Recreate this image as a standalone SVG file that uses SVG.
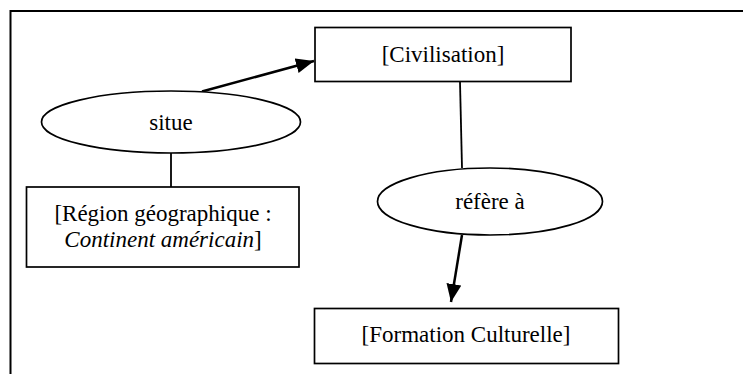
<svg xmlns="http://www.w3.org/2000/svg" width="743" height="374" viewBox="0 0 743 374">
<style>
.box{fill:#fff;stroke:#000;stroke-width:1.7}
.el{fill:#fff;stroke:#000;stroke-width:1.7}
.t{font-family:'Liberation Serif','Times New Roman',Times,'DejaVu Serif',serif;font-size:23px;fill:#000;text-anchor:middle}
.c{stroke:#000;stroke-width:2.5;fill:none}
.frame{stroke:#000;stroke-width:2;fill:none}
</style>
<defs>
<marker id="ah" markerUnits="userSpaceOnUse" markerWidth="20" markerHeight="16" refX="18" refY="7.5" orient="auto">
<path d="M0,0 L18,7.5 L0,15 Z" fill="#000"/>
</marker>
</defs>
<rect width="743" height="374" fill="#fff"/>
<path class="frame" d="M10.5,374 V11 H743"/>
<g id="connectors">
<line class="c" x1="202" y1="91.5" x2="314" y2="61" marker-end="url(#ah)"/>
<line class="c" x1="171" y1="153" x2="171" y2="187" style="stroke-width:1.8"/>
<line class="c" x1="460" y1="82" x2="462" y2="168" style="stroke-width:1.8"/>
<line class="c" x1="462" y1="235" x2="451" y2="302" marker-end="url(#ah)"/>
</g>
<g id="civilisation">
<rect class="box" x="315" y="27.5" width="256" height="54"/>
<text class="t" x="443" y="62" font-family="Liberation Serif, serif">[Civilisation]</text>
</g>
<g id="situe">
<ellipse class="el" cx="171" cy="122" rx="129.5" ry="31"/>
<text class="t" x="171" y="130" font-family="Liberation Serif, serif">situe</text>
</g>
<g id="region">
<rect class="box" x="26.5" y="187" width="272.5" height="80"/>
<text class="t" x="163" y="221" font-family="Liberation Serif, serif">[Région géographique :</text>
<text class="t" x="163" y="247" font-family="Liberation Serif, serif"><tspan font-style="italic">Continent américain</tspan>]</text>
</g>
<g id="refere">
<ellipse class="el" cx="490" cy="201.5" rx="112.5" ry="33.5"/>
<text class="t" x="490" y="209" font-family="Liberation Serif, serif">réfère à</text>
</g>
<g id="formation">
<rect class="box" x="314.5" y="308.5" width="304" height="55"/>
<text class="t" x="466" y="342" font-family="Liberation Serif, serif">[Formation Culturelle]</text>
</g>
</svg>
